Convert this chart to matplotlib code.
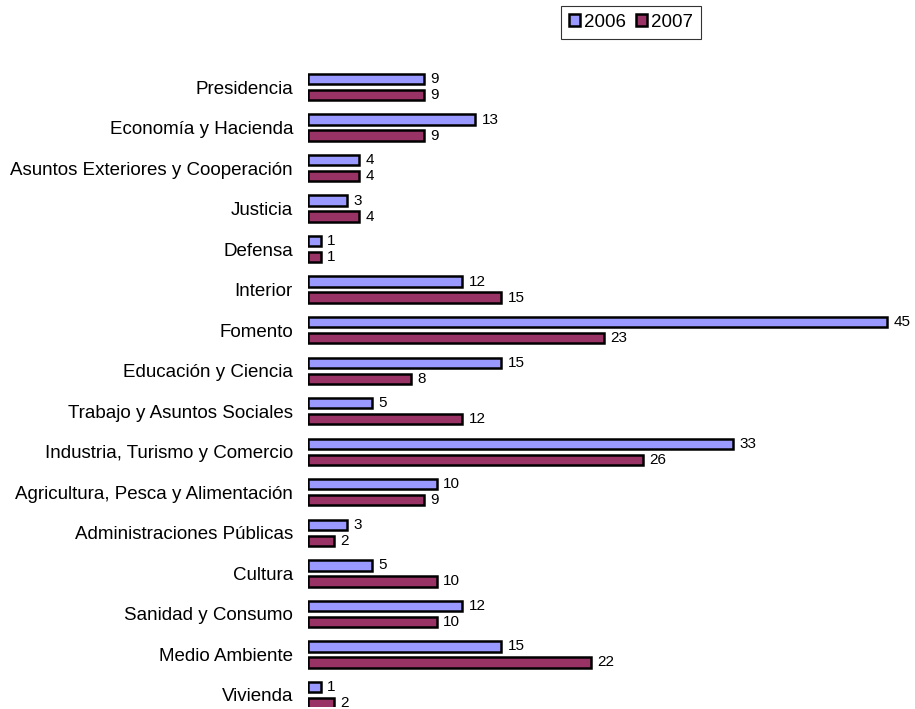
import matplotlib
matplotlib.use("Agg")
import matplotlib.pyplot as plt
import numpy as np
from matplotlib.patches import Patch

categories = [
    "Presidencia", "Economía y Hacienda", "Asuntos Exteriores y Cooperación",
    "Justicia", "Defensa", "Interior", "Fomento", "Educación y Ciencia",
    "Trabajo y Asuntos Sociales", "Industria, Turismo y Comercio",
    "Agricultura, Pesca y Alimentación", "Administraciones Públicas",
    "Cultura", "Sanidad y Consumo", "Medio Ambiente", "Vivienda",
]
values_2006 = [9, 13, 4, 3, 1, 12, 45, 15, 5, 33, 10, 3, 5, 12, 15, 1]
values_2007 = [9, 9, 4, 4, 1, 15, 23, 8, 12, 26, 9, 2, 10, 10, 22, 2]
series_names = ["2006", "2007"]

plt.rcParams["font.family"] = ["Liberation Sans", "DejaVu Sans"]

W, H = 915, 709
fig = plt.figure(figsize=(W / 100, H / 100), dpi=100)

px_unit = 12.87
row = 40.53
x_left = 308
top = 87.0 - 0.5 * row
xmax = 48
ymax = 15.3
ax_w = xmax * px_unit
ax_h = (ymax + 0.5) * row
ax = fig.add_axes([x_left / W, 1 - (top + ax_h) / H, ax_w / W, ax_h / H])

y = np.arange(len(categories))
h = 0.255
off = 0.197
c06, c07 = "#9999FF", "#993366"
b1 = ax.barh(y - off, values_2006, height=h, color=c06, edgecolor="black", linewidth=1.8)
b2 = ax.barh(y + off, values_2007, height=h, color=c07, edgecolor="black", linewidth=1.8)

for bars, vals in ((b1, values_2006), (b2, values_2007)):
    for bar, v in zip(bars, vals):
        ax.text(v + 0.5, bar.get_y() + bar.get_height() / 2, str(v),
                va="center", ha="left", fontsize=11, clip_on=False)

ax.set_xlim(0, xmax)
ax.set_ylim(ymax, -0.5)
ax.set_yticks(y)
ax.set_yticklabels(categories, fontsize=13.5)
ax.tick_params(axis="y", length=0, pad=10.8)
ax.set_xticks([])
for s in ax.spines.values():
    s.set_visible(False)

handles = [Patch(facecolor=c06, edgecolor="black", linewidth=1.8),
           Patch(facecolor=c07, edgecolor="black", linewidth=1.8)]
leg = fig.legend(handles, series_names, loc="upper left",
                 bbox_to_anchor=(561 / W, 1 - 6 / H), fontsize=13.5,
                 frameon=True, fancybox=False, handlelength=0.6, handleheight=0.6,
                 handletextpad=0.2, columnspacing=0.55, ncol=2,
                 borderpad=0.42, borderaxespad=0)
leg.get_frame().set_edgecolor("black")
leg.get_frame().set_linewidth(0.8)

fig.savefig("out.png", dpi=100)
